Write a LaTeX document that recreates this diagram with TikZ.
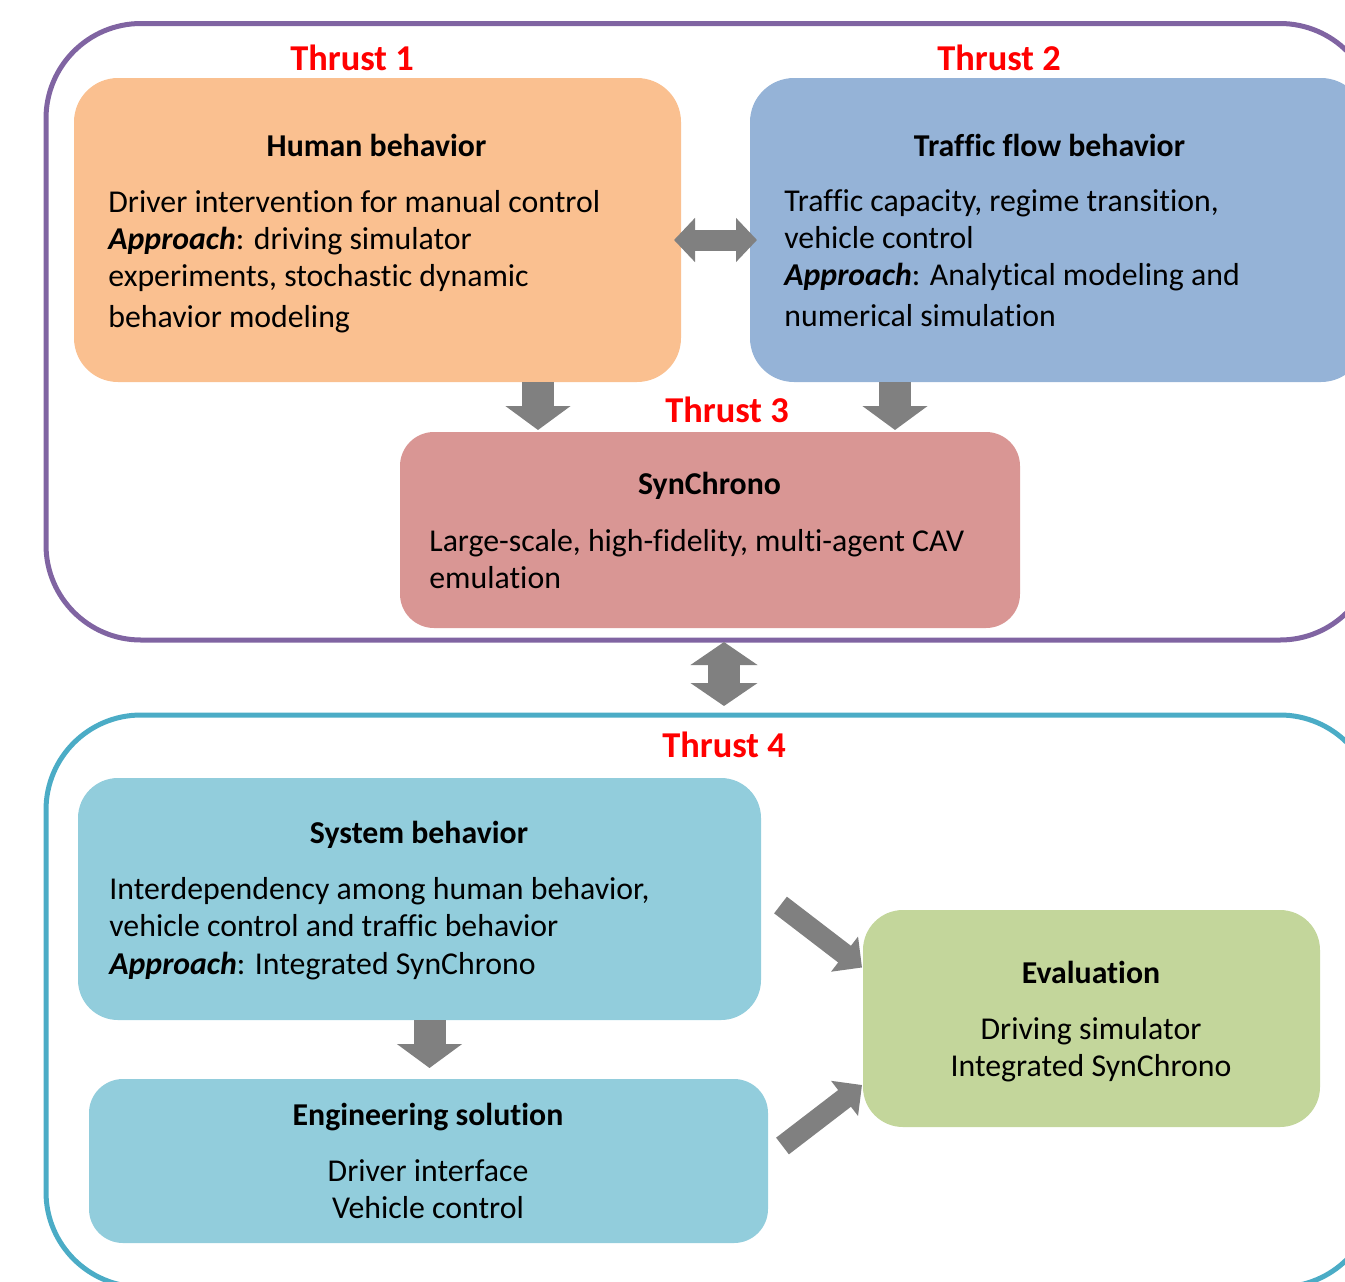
\documentclass[tikz,border=0pt]{standalone}
\usepackage{fontspec}
\setmainfont[Ligatures=NoCommon]{Carlito}
\usetikzlibrary{arrows.meta}

\definecolor{humanfill}{HTML}{FAC090}
\definecolor{trafficfill}{HTML}{95B3D7}
\definecolor{synfill}{HTML}{D99694}
\definecolor{sysfill}{HTML}{92CDDC}
\definecolor{evalfill}{HTML}{C3D69B}
\definecolor{topline}{HTML}{8064A2}
\definecolor{botline}{HTML}{4BACC6}
\definecolor{arrowgray}{HTML}{808080}

\begin{document}
\begin{tikzpicture}[x=0.5pt,y=-0.5pt,
  outline/.style={draw,line width=2.5pt,rounded corners=47.5pt,inner sep=0pt,outer sep=0pt},
  box/.style={rounded corners=22pt,inner sep=0pt,outer sep=0pt},
  thrust/.style={anchor=base,inner sep=0pt,text=red,font=\fontsize{18.2}{22}\selectfont\bfseries},
  ttl/.style={anchor=base,inner sep=0pt,font=\fontsize{15.9}{18.5}\selectfont\bfseries},
  body/.style={anchor=base west,align=left,inner sep=0pt,font=\fontsize{15.9}{18.5}\selectfont},
  cbody/.style={body,anchor=base,align=center},
  blk/.style={draw=arrowgray,line width=16pt,-{Triangle[width=32pt,length=12pt]}},
  slim/.style={draw=arrowgray,line width=10.5pt,-{Triangle[width=21.5pt,length=11pt]}},
  dblk/.style={draw=arrowgray,line width=16pt,{Triangle[width=33pt,length=11.5pt]}-{Triangle[width=33pt,length=11.5pt]}},
  dslim/.style={draw=arrowgray,line width=10.5pt,{Triangle[width=21.5pt,length=10.5pt]}-{Triangle[width=21.5pt,length=10.5pt]}},
]
\useasboundingbox (0,0) rectangle (1345,1281);

% the two thrust groups
\node[outline,draw=topline,minimum width=664.5pt,minimum height=308.25pt] (tframe) at (710.5,331.75) {};
\node[outline,draw=botline,minimum width=664.5pt,minimum height=286pt] (bframe) at (710.5,1001) {};

% boxes
\node[box,fill=humanfill,minimum width=303.5pt,minimum height=152pt] (human) at (377.5,230) {};
\node[box,fill=trafficfill,minimum width=307.5pt,minimum height=152pt] (traffic) at (1057.5,230) {};
\node[box,rounded corners=17pt,fill=synfill,minimum width=310pt,minimum height=98pt] (syn) at (710,530) {};
\node[box,rounded corners=20pt,fill=sysfill,minimum width=341.5pt,minimum height=121pt] (system) at (419.5,899) {};
\node[box,rounded corners=17pt,fill=sysfill,minimum width=339.5pt,minimum height=82pt] (eng) at (428.5,1161) {};
\node[box,rounded corners=20pt,fill=evalfill,minimum width=228.5pt,minimum height=108.5pt] (eval) at (1091.5,1018.5) {};

% labels (multi-line texts sit on their last line)
\node[thrust] (t1) at (352,70) {Thrust 1};
\node[thrust] (t2) at (999,70) {Thrust 2};
\node[thrust] (t3) at (727,422) {Thrust 3};
\node[thrust] (t4) at (724,757) {Thrust 4};

\node[ttl] (humanttl) at (376.5,156) {Human behavior};
\node[body] (humantxt) at (108,327) {Driver intervention for manual control\\
  \textbf{\textit{Approach}}: driving simulator\\
  experiments, stochastic dynamic\\[2pt]
  behavior modeling};

\node[ttl] (trafficttl) at (1049.5,156) {Traffic flow behavior};
\node[body] (traffictxt) at (784,326) {Traffic capacity, regime transition,\\
  vehicle control\\
  \textbf{\textit{Approach}}: Analytical modeling and\\[2pt]
  numerical simulation};

\node[ttl] (synttl) at (709.5,494) {SynChrono};
\node[body] (syntxt) at (429,588) {Large-scale, high-fidelity, multi-agent CAV\\emulation};

\node[ttl] (systemttl) at (419,843) {System behavior};
\node[body] (systemtxt) at (109,974) {Interdependency among human behavior,\\
  vehicle control and traffic behavior\\[0.5pt]
  \textbf{\textit{Approach}}: Integrated SynChrono};

\node[ttl] (engttl) at (428,1125) {Engineering solution};
\node[cbody] (engtxt) at (428,1218) {Driver interface\\Vehicle control};

\node[ttl] (evalttl) at (1091,983) {Evaluation};
\node[cbody] (evaltxt) at (1091,1076) {Driving simulator\\Integrated SynChrono};

% arrows
\draw[dslim,shorten <=-3.5pt,shorten >=-3.5pt] ([yshift=-5pt]human.east) -- ([yshift=-5pt]traffic.west);
\draw[blk,shorten >=1pt] ([xshift=80.25pt]human.south) -- ([xshift=80.25pt]human.south |- syn.north);
\draw[blk,shorten >=1pt] ([xshift=-81.25pt]traffic.south) -- ([xshift=-81.25pt]traffic.south |- syn.north);
\draw[dblk,shorten <=1pt,shorten >=4.5pt] ([xshift=6.75pt]tframe.south) -- ([xshift=6.75pt]tframe.south |- bframe.north);
\draw[blk,shorten >=5.5pt] ([xshift=5pt]system.south) -- ([xshift=5pt]system.south |- eng.north);
\draw[slim] ([shift={(9.75pt,-3pt)}]system.east) -- ([shift={(-0.5pt,25.5pt)}]eval.west);
\draw[slim] ([shift={(7.25pt,7.5pt)}]eng.east) -- ([shift={(-0.5pt,-33.25pt)}]eval.west);
\end{tikzpicture}
\end{document}
